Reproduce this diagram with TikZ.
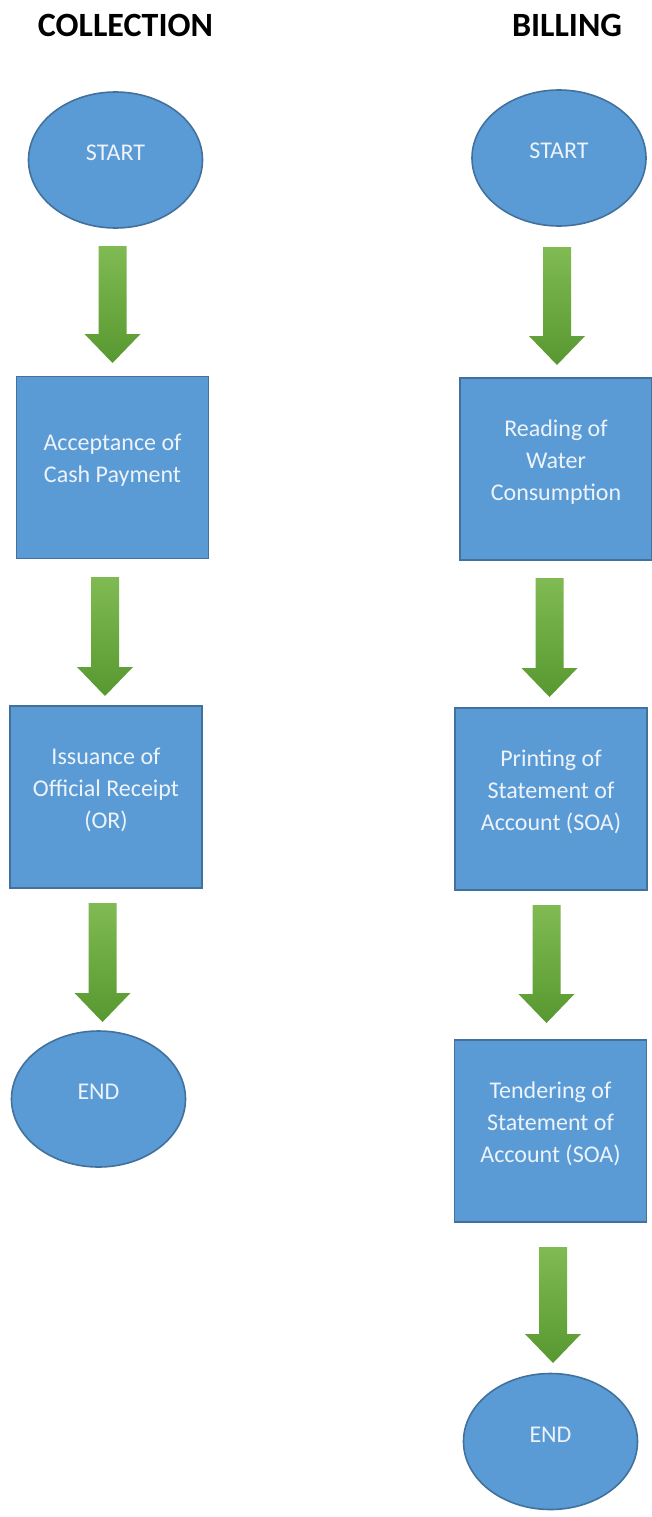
\documentclass[tikz,border=0pt]{standalone}
\usepackage{fontspec}
\setmainfont{Carlito}
\usetikzlibrary{shapes.geometric,calc}
\definecolor{boxblue}{RGB}{91,155,213}
\definecolor{boxedge}{RGB}{65,113,156}
\definecolor{txtwhite}{RGB}{236,243,250}
\definecolor{grtop}{RGB}{128,186,82}
\definecolor{grbot}{RGB}{88,152,48}
\tikzset{
 flowbox/.style={draw=boxedge, fill=boxblue, line width=1.6pt, minimum width=192pt, minimum height=182pt, inner sep=0pt},
 flowell/.style={ellipse, draw=boxedge, fill=boxblue, line width=1.6pt, minimum width=174pt, minimum height=136pt, inner sep=0pt},
 flowtxt/.style={text=txtwhite, font=\fontsize{24}{32}\selectfont, align=center, yshift=7pt, inner sep=0pt},
 coltitle/.style={font=\fontsize{34}{40}\selectfont\bfseries, inner sep=0pt},
 blockarrow/.style={top color=grtop, bottom color=grbot, draw=none}
}
\newcommand\flowarrow[2]{\shade[blockarrow] ($(#1)+(-14,0)$) -- ($(#1)+(14,0)$) -- ($(#2)+(14,-29)$) -- ($(#2)+(28,-29)$) -- (#2) -- ($(#2)+(-28,-29)$) -- ($(#2)+(-14,-29)$) -- cycle;}
\begin{document}
\begin{tikzpicture}[x=1pt,y=-1pt]
\fill[white] (0,0) rectangle (651,1517);
\useasboundingbox (0,0) rectangle (651,1517);
% titles
\node[coltitle] (tcol) at (125.5,25) {COLLECTION};
\node[coltitle] (tbil) at (567,25) {BILLING};
% collection
\node[flowell, label={[flowtxt]center:START}] (cs) at (115.5,160) {};
\node[flowbox, label={[flowtxt]center:Acceptance of\\Cash Payment}] (c1) at (112.5,467.5) {};
\node[flowbox, label={[flowtxt]center:Issuance of\\Official Receipt\\(OR)}] (c2) at (106,797) {};
\node[flowell, label={[flowtxt]center:END}] (ce) at (98.5,1099) {};
% billing
\node[flowell, label={[flowtxt]center:START}] (bs) at (559,158) {};
\node[flowbox, label={[flowtxt]center:Reading of\\Water\\Consumption}] (b1) at (556,469) {};
\node[flowbox, label={[flowtxt]center:Printing of\\Statement of\\Account (SOA)}] (b2) at (551,799) {};
\node[flowbox, label={[flowtxt]center:Tendering of\\Statement of\\Account (SOA)}] (b3) at (550.5,1131) {};
\node[flowell, label={[flowtxt]center:END}] (be) at (550.5,1441.5) {};
% arrow end points
\coordinate (ca1s) at (112.5,246);  \coordinate (ca1t) at (112.5,363);
\coordinate (ca2s) at (105,577);    \coordinate (ca2t) at (105,696);
\coordinate (ca3s) at (102.5,903);  \coordinate (ca3t) at (102.5,1022);
\coordinate (ba1s) at (557,247);    \coordinate (ba1t) at (557,365);
\coordinate (ba2s) at (549.5,578);  \coordinate (ba2t) at (549.5,697);
\coordinate (ba3s) at (546.5,905);  \coordinate (ba3t) at (546.5,1023);
\coordinate (ba4s) at (553,1247);   \coordinate (ba4t) at (553,1363);
\flowarrow{ca1s}{ca1t}
\flowarrow{ca2s}{ca2t}
\flowarrow{ca3s}{ca3t}
\flowarrow{ba1s}{ba1t}
\flowarrow{ba2s}{ba2t}
\flowarrow{ba3s}{ba3t}
\flowarrow{ba4s}{ba4t}
\end{tikzpicture}
\end{document}
